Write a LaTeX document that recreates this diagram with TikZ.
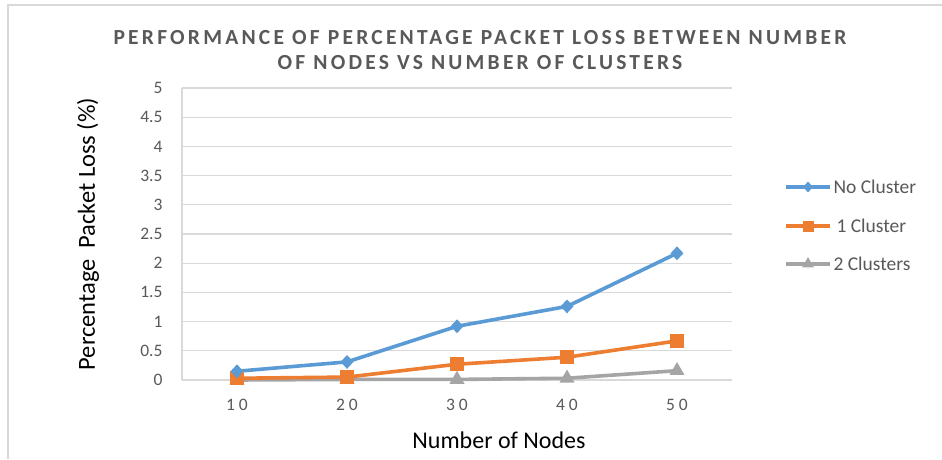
\documentclass[tikz,border=0pt]{standalone}
\usepackage{fontspec}
\setmainfont{Carlito}
\newfontfamily\titlefont[LetterSpace=15]{Carlito}
\newfontfamily\tickfont[LetterSpace=22]{Carlito}
\usetikzlibrary{shapes.geometric}
\definecolor{cblue}{HTML}{5B9BD5}
\definecolor{corange}{HTML}{ED7D31}
\definecolor{cgray}{HTML}{A5A5A5}
\definecolor{cgrid}{HTML}{D9D9D9}
\definecolor{ctext}{HTML}{595959}
\definecolor{cframe}{HTML}{D9D9D9}
\tikzset{
  grid line/.style={draw=cgrid, line width=1.3},
  series/.style={line width=3.6, line join=round},
  dmark/.style={diamond, fill=cblue, inner sep=0, minimum width=13, minimum height=14},
  smark/.style={rectangle, fill=corange, inner sep=0, minimum size=14},
  tmark/.style={isosceles triangle, isosceles triangle apex angle=60, shape border rotate=90, fill=cgray, inner sep=0, minimum height=13, minimum width=15},
  ylab/.style={anchor=east, text=ctext, font=\fontsize{17.5}{20}\selectfont},
  xlab/.style={anchor=center, text=ctext, font=\tickfont\fontsize{17.5}{20}\selectfont},
  legtext/.style={anchor=west, text=ctext, font=\fontsize{19.5}{22}\selectfont},
}
\begin{document}
\begin{tikzpicture}[x=1pt,y=-1pt]
\useasboundingbox (0,0) rectangle (942,459);
\fill[white] (0,0) rectangle (942,459);
% outer frame (top and left)
\draw[draw=cframe, line width=2] (8,459) -- (8,5) -- (942,5);
% title
\node[text=ctext, font=\titlefont\bfseries\fontsize{21.5}{25.5}\selectfont, align=center] (title) at (480,50) {PERFORMANCE OF PERCENTAGE PACKET LOSS BETWEEN NUMBER\\OF NODES VS NUMBER OF CLUSTERS};
% grid
\foreach \v in {0.5,1,...,5.0} {
  \draw[grid line] (182,{380-58.4*\v}) -- (732,{380-58.4*\v});
}
\draw[grid line] (182,380) -- (732,380);
\draw[grid line] (182,88) -- (182,380);
% y labels
\foreach \v/\t in {0/0,0.5/0.5,1/1,1.5/1.5,2/2,2.5/2.5,3/3,3.5/3.5,4/4,4.5/4.5,5/5} {
  \node[ylab] (yl\t) at (166,{380-58.4*\v}) {\t};
}
% x labels
\foreach \i/\t in {0/10,1/20,2/30,3/40,4/50} {
  \node[xlab] (xl\t) at ({237+110*\i},405) {\t};
}
% axis titles
\node[font=\fontsize{24}{28}\selectfont] (xtitle) at (499,440) {Number of Nodes};
\node[font=\fontsize{24.5}{28}\selectfont, rotate=90] (ytitle) at (88,234) {Percentage\ \ Packet Loss (\%)};
% data coordinates
\foreach \i/\a/\b/\c in {1/0.15/0.03/0, 2/0.31/0.05/0.01, 3/0.92/0.27/0.01, 4/1.26/0.39/0.03, 5/2.17/0.67/0.16} {
  \coordinate (a\i) at ({237+110*(\i-1)},{380-58.4*\a});
  \coordinate (b\i) at ({237+110*(\i-1)},{380-58.4*\b});
  \coordinate (c\i) at ({237+110*(\i-1)},{380-58.4*\c});
}
% series lines
\draw[series, cgray] (c1) -- (c2) -- (c3) -- (c4) -- (c5);
\draw[series, corange] (b1) -- (b2) -- (b3) -- (b4) -- (b5);
\draw[series, cblue] (a1) -- (a2) -- (a3) -- (a4) -- (a5);
\foreach \i in {1,...,5} {
  \node[tmark] (mc\i) at (c\i) {};
}
\foreach \i in {1,...,5} {
  \node[smark] (mb\i) at (b\i) {};
}
\foreach \i in {1,...,5} {
  \node[dmark] (ma\i) at (a\i) {};
}
% legend
\coordinate (la0) at (786,187); \coordinate (la1) at (830,187);
\coordinate (lb0) at (786,226); \coordinate (lb1) at (830,226);
\coordinate (lc0) at (786,264); \coordinate (lc1) at (830,264);
\draw[series, cblue] (la0) -- (la1);
\draw[series, corange] (lb0) -- (lb1);
\draw[series, cgray] (lc0) -- (lc1);
\node[dmark, minimum width=10, minimum height=11] (lma) at (808,187) {};
\node[smark, minimum size=11] (lmb) at (808,226) {};
\node[tmark, minimum height=10, minimum width=12] (lmc) at (808,264) {};
\node[legtext] (lta) at (830,187) {No Cluster};
\node[legtext] (ltb) at (833,226) {1 Cluster};
\node[legtext] (ltc) at (830,264) {2 Clusters};
\end{tikzpicture}
\end{document}
